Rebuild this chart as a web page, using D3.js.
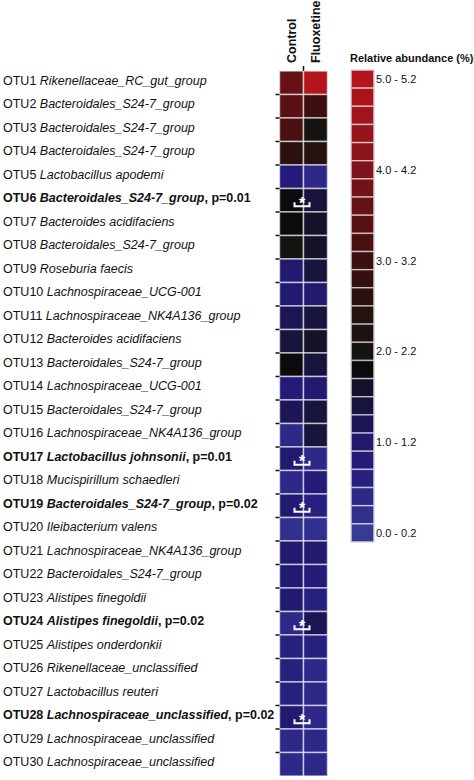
<!DOCTYPE html>
<meta charset="utf-8">
<style>
html,body{margin:0;background:#fff;}
text{font-family:"Liberation Sans",Arial,sans-serif;fill:#111;}
</style>
<script src="https://d3js.org/d3.v7.min.js"></script>
<body>
<script>

var otus = ["OTU1","OTU2","OTU3","OTU4","OTU5","OTU6","OTU7","OTU8","OTU9","OTU10",
  "OTU11","OTU12","OTU13","OTU14","OTU15","OTU16","OTU17","OTU18","OTU19","OTU20",
  "OTU21","OTU22","OTU23","OTU24","OTU25","OTU26","OTU27","OTU28","OTU29","OTU30"];

var taxa = ["Rikenellaceae_RC_gut_group","Bacteroidales_S24-7_group","Bacteroidales_S24-7_group",
  "Bacteroidales_S24-7_group","Lactobacillus apodemi","Bacteroidales_S24-7_group",
  "Bacteroides acidifaciens","Bacteroidales_S24-7_group","Roseburia faecis",
  "Lachnospiraceae_UCG-001","Lachnospiraceae_NK4A136_group","Bacteroides acidifaciens",
  "Bacteroidales_S24-7_group","Lachnospiraceae_UCG-001","Bacteroidales_S24-7_group",
  "Lachnospiraceae_NK4A136_group","Lactobacillus johnsonii","Mucispirillum schaedleri",
  "Bacteroidales_S24-7_group","Ileibacterium valens","Lachnospiraceae_NK4A136_group",
  "Bacteroidales_S24-7_group","Alistipes finegoldii","Alistipes finegoldii",
  "Alistipes onderdonkii","Rikenellaceae_unclassified","Lactobacillus reuteri",
  "Lachnospiraceae_unclassified","Lachnospiraceae_unclassified","Lachnospiraceae_unclassified"];

// p value only for the significant OTUs
var pvals = [null,null,null,null,null,"0.01",null,null,null,null,
  null,null,null,null,null,null,"0.01",null,"0.02",null,
  null,null,null,"0.02",null,null,null,"0.02",null,null];

var groups = ["Control","Fluoxetine"];

// relative abundance (%)
var control = [3.7,3.5,3.3,2.7,0.9,1.9,1.9,2.1,1.1,1.1,
  1.3,1.4,1.9,0.8,1.3,0.6,1.2,0.6,1.2,0.3,
  1.1,1.2,1.0,0.6,0.7,0.7,0.7,1.0,0.6,0.6];
var fluoxetine = [5.1,3.0,2.1,2.6,0.6,1.4,1.7,1.7,1.5,1.1,
  1.4,1.6,1.5,1.1,1.4,1.5,0.5,0.9,0.7,0.3,
  1.2,0.8,0.7,1.3,0.7,0.6,0.6,0.5,0.6,0.5];

// legend bins, 0.0-0.2 up to 5.0-5.2
var binColors = ["#383a94","#32308e","#2e2888","#28207f","#241b78","#221a70","#1c1656","#17143e",
  "#131228","#0b0b0b","#161410","#1c1210","#241110","#2a1010","#341010","#3e0f0f",
  "#4a0f0f","#581012","#661215","#721317","#80141a","#8c141b","#96141c","#a0141c",
  "#aa141d","#b3141e"];
var legendLabels = ["0.0 - 0.2","1.0 - 1.2","2.0 - 2.2","3.0 - 3.2","4.0 - 4.2","5.0 - 5.2"];

var width = 474, height = 780;

var svg = d3.select("body").append("svg")
    .attr("width", width)
    .attr("height", height);

var x = d3.scaleBand().domain(groups).range([279.5, 327.5]);
var y = d3.scaleBand().domain(otus).range([71, 776]);
var color = d3.scaleQuantize().domain([0, 5.2]).range(binColors);

var cells = [];
otus.forEach(function(o, i){
  cells.push({otu: o, group: "Control", v: control[i]});
  cells.push({otu: o, group: "Fluoxetine", v: fluoxetine[i]});
});

var heat = svg.append("g");

heat.selectAll("rect")
  .data(cells)
  .enter().append("rect")
  .attr("x", function(d){ return x(d.group); })
  .attr("y", function(d){ return y(d.otu); })
  .attr("width", x.bandwidth())
  .attr("height", y.bandwidth())
  .attr("fill", function(d){ return color(d.v); })
  .attr("stroke", "rgba(255,255,255,0.6)")
  .attr("stroke-width", 1.5);

// little ticks between rows on the left
heat.selectAll(".tick")
  .data(otus.slice(1))
  .enter().append("line")
  .attr("x1", x.range()[0] - 4)
  .attr("x2", x.range()[0])
  .attr("y1", function(d){ return y(d); })
  .attr("y2", function(d){ return y(d); })
  .attr("stroke", "#111")
  .attr("stroke-width", 1.5);

// divider tick on top
heat.append("line")
  .attr("x1", x("Fluoxetine")).attr("x2", x("Fluoxetine"))
  .attr("y1", y.range()[0] - 5).attr("y2", y.range()[0])
  .attr("stroke", "#111").attr("stroke-width", 1.5);

// column titles
svg.selectAll(".coltitle")
  .data(groups)
  .enter().append("text")
  .attr("transform", function(d){
    return "translate(" + (x(d) + x.bandwidth()/2 + 4.5) + "," + (y.range()[0] - 8) + ") rotate(-90)";
  })
  .style("font-size", "12.5px")
  .style("font-weight", "bold")
  .text(function(d){ return d; });

// row labels
var lab = svg.selectAll(".rowlab")
  .data(otus)
  .enter().append("text")
  .attr("x", 3)
  .attr("y", function(d){ return y(d) + y.bandwidth()/2 - 2; })
  .attr("dominant-baseline", "central")
  .style("font-size", "12.5px")
  .style("font-weight", function(d, i){ return pvals[i] ? "bold" : "normal"; });

lab.append("tspan").text(function(d){ return d + " "; });
lab.append("tspan").style("font-style", "italic").text(function(d, i){ return taxa[i]; });
lab.append("tspan").text(function(d, i){ return pvals[i] ? ", p=" + pvals[i] : ""; });

// significance marks
var sig = otus.filter(function(d, i){ return pvals[i]; });
var mx = x("Fluoxetine") - 1.5;

var mark = svg.selectAll(".sig")
  .data(sig)
  .enter().append("g")
  .attr("transform", function(d){ return "translate(" + mx + "," + (y(d) + y.bandwidth()/2) + ")"; });

mark.append("text")
  .attr("text-anchor", "middle")
  .attr("y", 8.5)
  .style("font-size", "16px")
  .style("font-weight", "bold")
  .style("fill", "#fff")
  .text("*");

mark.append("path")
  .attr("d", "M-7.5,2V6H7.5V2")
  .attr("fill", "none")
  .attr("stroke", "#fff")
  .attr("stroke-width", 2);

// legend
var bins = d3.range(binColors.length).reverse();
var ly = d3.scaleBand().domain(bins).range([70, 542]);
var lx = 351, lw = 23;

svg.append("text")
  .attr("x", 350)
  .attr("y", 61.5)
  .style("font-size", "11px")
  .style("font-weight", "bold")
  .text("Relative abundance (%)");

var leg = svg.append("g");

leg.selectAll("rect")
  .data(bins)
  .enter().append("rect")
  .attr("x", lx)
  .attr("y", function(d){ return ly(d); })
  .attr("width", lw)
  .attr("height", ly.bandwidth())
  .attr("fill", function(d){ return binColors[d]; })
  .attr("stroke", "rgba(255,255,255,0.55)")
  .attr("stroke-width", 1.5);

leg.append("rect")
  .attr("x", lx).attr("y", ly.range()[0])
  .attr("width", lw).attr("height", ly.range()[1] - ly.range()[0])
  .attr("fill", "none")
  .attr("stroke", "#c9c4cf")
  .attr("stroke-width", 1);

leg.selectAll(".leglab")
  .data(legendLabels)
  .enter().append("text")
  .attr("x", lx + lw + 2)
  .attr("y", function(d, i){ return ly(i * 5) + ly.bandwidth()/2; })
  .attr("dominant-baseline", "central")
  .style("font-size", "11px")
  .text(function(d){ return d; });

</script>
</body>
</html>
